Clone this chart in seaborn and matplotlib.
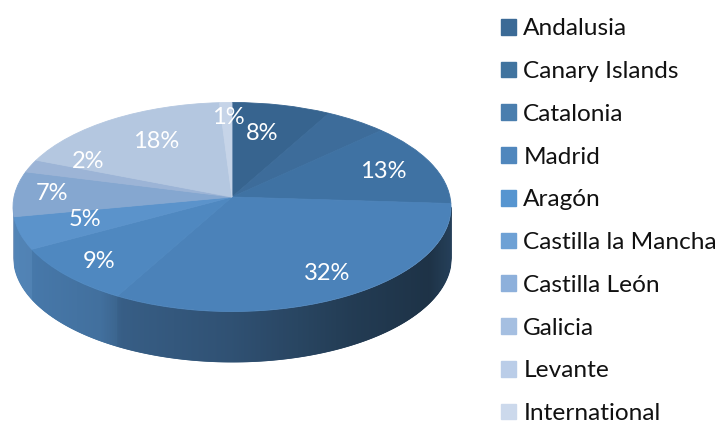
import numpy as np
import matplotlib
matplotlib.use("Agg")
import matplotlib.pyplot as plt
import matplotlib.patches as mpatches
from matplotlib.transforms import Transform
import seaborn as sns

regions = ["Andalusia", "Canary Islands", "Catalonia", "Madrid", "Aragón",
           "Castilla la Mancha", "Castilla León", "Galicia", "Levante", "International"]
shares = [8, 5, 13, 32, 9, 5, 7, 2, 18, 1]

top_colors = ["#37648f", "#3d6c9a", "#3f72a3", "#4b82b9", "#4f88c0",
              "#5b93cb", "#85a7d0", "#9cb4d6", "#b4c7e0", "#c6d4e8"]
legend_colors = ["#3b6a96", "#41749f", "#4a7eae", "#5087bd", "#5695d0",
                 "#6ea1d5", "#8db0db", "#a5bfe1", "#bacde8", "#ccd9ec"]

sns.set_theme(style="white")
plt.rcParams["font.family"] = ["Lato", "DejaVu Sans"]

W, H = 721, 424
CX, CY, RX, RY, DEPTH = 232, 207, 219, 104.5, 50
A = 10 / RY            # apex sits above the ellipse centre (perspective)
S = np.sqrt(1 - A**2)

class Perspective(Transform):
    input_dims = output_dims = 2
    has_inverse = False
    def transform_non_affine(self, xy):
        xy = np.asarray(xy, float)
        d = 1 + A * xy[:, 1]
        return np.column_stack([xy[:, 0] * S / d, (xy[:, 1] + A) / d])

fig = plt.figure(figsize=(W / 100, H / 100), dpi=100)
ax = fig.add_axes([0, 0, 1, 1])
wedges, _, pct = ax.pie(shares, colors=sns.color_palette(top_colors), startangle=90,
                        counterclock=False, autopct="%.0f%%",
                        textprops=dict(color="white", fontsize=17))
ax.set_aspect("auto")
ax.set_xlim((0 - CX) / RX, (W - CX) / RX)
ax.set_ylim((CY - H) / RY, CY / RY)

persp = Perspective()
for w in wedges:
    w.set_transform(persp + ax.transData)
    w.set_edgecolor(w.get_facecolor())
    w.set_linewidth(0.6)

# percent labels placed where the reference has them (pixel positions)
label_px = [(262, 133), None, (383, 171), (327, 273), (99, 261),
            (85, 219), (52, 193), (88, 162), (156, 141), (228, 117)]
for t, p in zip(pct, label_px):
    if p is None:
        t.set_visible(False)
    else:
        t.set_position(((p[0] - CX) / RX, (CY - p[1]) / RY))
        t.set_ha("center")
        t.set_va("center")
        t.set_zorder(5)

# extruded rim: one thin strip per pixel column, shaded by slice and by position
edges = np.arange(-1, 1.0001, 1 / RX)
cum = np.cumsum(shares)
dy = DEPTH / RY
for x0, x1 in zip(edges[:-1], edges[1:]):
    xm = (x0 + x1) / 2
    ym = -np.sqrt(max(1 - xm**2, 0))
    d = 1 - A * ym
    v, u = (ym - A) / d, xm * S / d
    pos = ((90 - np.degrees(np.arctan2(v, u))) % 360) / 3.6
    i = min(int(np.searchsorted(cum, pos)), len(shares) - 1)
    f = np.interp(xm, [-1, -0.6, -0.5, 0, 0.55, 0.9, 1],
                  [0.9, 0.82, 0.72, 0.62, 0.45, 0.38, 0.48])
    col = np.array(matplotlib.colors.to_rgb(top_colors[i])) * f
    xs = np.array([x0, x1])
    top = -np.sqrt(np.clip(1 - xs**2, 0, 1))
    ax.fill_between(xs, top, top - dy, color=col, lw=0.6, zorder=0.5)

handles = [mpatches.Patch(color=c) for c in sns.color_palette(legend_colors)]
fig.legend(handles, regions, loc="upper left", bbox_to_anchor=(494 / W, 1 - 11 / H),
           frameon=False, fontsize=17.6, labelcolor="#111111",
           handlelength=0.61, handleheight=0.61, handletextpad=0.29,
           labelspacing=0.89, borderpad=0.3, borderaxespad=0)

fig.savefig("out.png", dpi=100)
